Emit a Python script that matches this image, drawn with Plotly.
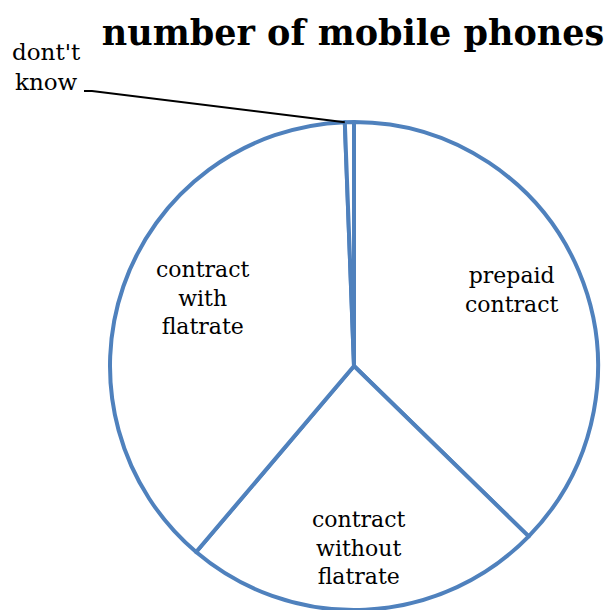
import math
import plotly.graph_objects as go

labels = ["prepaid<br>contract", "contract<br>without<br>flatrate", "contract<br>with<br>flatrate", "dont't<br>know"]
values = [37.3, 23.9, 38.2, 0.6]
title_text = "number of mobile phones"

W, H = 612, 610
# pie placement in pixels
cx, cy, R = 354, 366, 244
# label placement (fraction of radius, angle nudge in degrees from the slice bisector)
label_r = [0.717, 0.746, 0.68]
label_da = [-2.9, 1.0, 5.0]

fig = go.Figure()
fig.add_trace(go.Pie(
    labels=labels,
    values=values,
    sort=False,
    direction="clockwise",
    rotation=0,
    textinfo="none",
    marker=dict(colors=["white"] * 4, line=dict(color="#4F81BD", width=4)),
    domain=dict(x=[(cx - R) / W, (cx + R) / W], y=[(H - cy - R) / H, (H - cy + R) / H]),
    showlegend=False,
    hoverinfo="label+percent",
))

total = sum(values)
cum = 0.0
mids = []
for v in values:
    mids.append((cum + v / 2) / total * 360)
    cum += v

label_font = dict(family="DejaVu Serif", size=22, color="black")
for lab, m, rf, da in zip(labels[:3], mids[:3], label_r, label_da):
    a = math.radians(m + da)
    px = cx + rf * R * math.sin(a)
    py = cy - rf * R * math.cos(a)
    fig.add_annotation(text=lab, x=px / W, y=1 - py / H, xref="paper", yref="paper",
                       xanchor="center", yanchor="middle", showarrow=False,
                       align="center", font=label_font)

# leader line to the "dont't know" slice, computed from the data
a = math.radians(sum(values[:3]) / total * 360)
tipx = cx + R * math.sin(a)
tipy = cy - R * math.cos(a)
lx, ly = 84, 91
fig.add_shape(type="path",
              path=f"M {lx/W} {1-ly/H} L {(lx+8)/W} {1-ly/H} L {tipx/W} {1-tipy/H}",
              xref="paper", yref="paper", line=dict(color="black", width=2))
fig.add_annotation(text=labels[3], x=(lx - 1) / W, y=1 - ly / H, xref="paper", yref="paper",
                   xanchor="right", yanchor="middle", showarrow=False, align="center",
                   font=dict(family="DejaVu Serif", size=23, color="black"),
                   yshift=24)

fig.update_layout(
    width=W, height=H,
    margin=dict(l=0, r=0, t=0, b=0),
    paper_bgcolor="white",
    plot_bgcolor="white",
    title=dict(text=f"<b>{title_text}</b>", x=353 / W, xanchor="center",
               y=1 - 33 / H, yanchor="middle", yref="container",
               font=dict(family="DejaVu Serif", size=35, color="black")),
)

fig.write_html("out.html")
